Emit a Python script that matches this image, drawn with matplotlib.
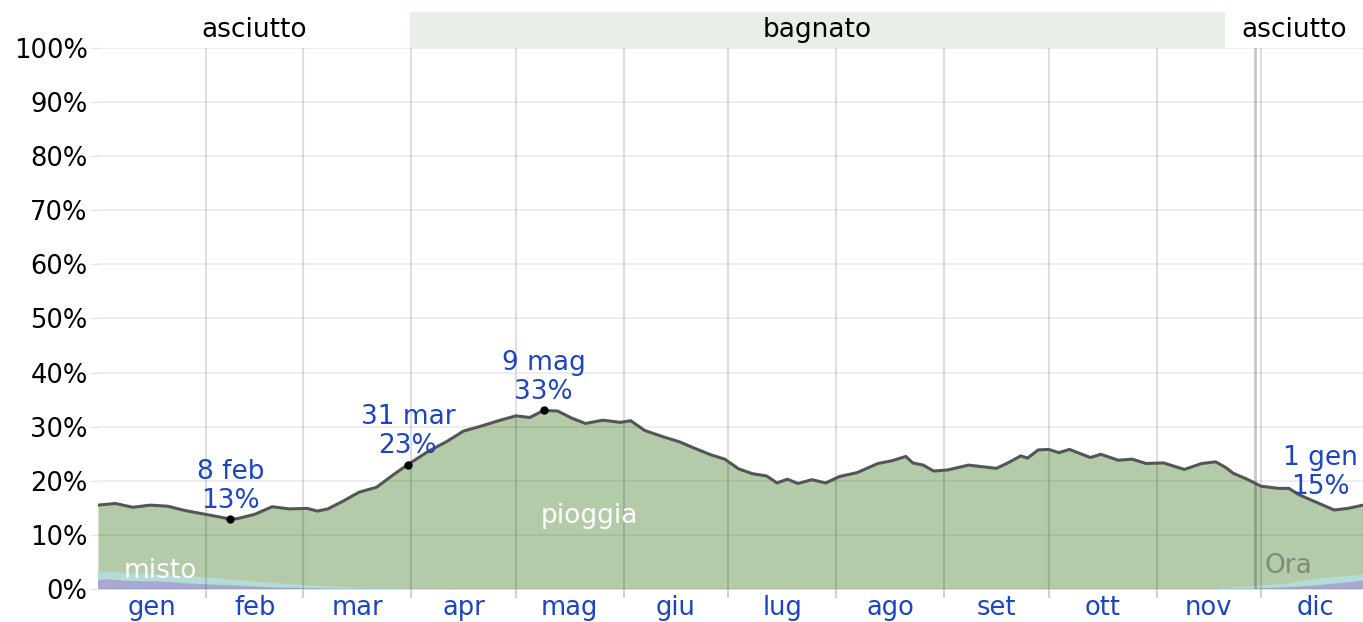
import matplotlib.pyplot as plt
from matplotlib.ticker import FixedLocator, NullFormatter

# giorno dell'anno (0 = 1 gen) e probabilità totale di precipitazione (%)
days = [0, 5, 10, 15, 20, 25, 30, 35, 38, 40, 45, 50, 55, 60, 63, 66, 70, 75,
        80, 85, 89, 95, 100, 105, 110, 115, 120, 124, 128, 132, 136, 140, 145,
        150, 153, 157, 162, 167, 171, 176, 180, 184, 188, 192, 195, 198, 201,
        205, 209, 213, 218, 224, 228, 232, 234, 237, 240, 244, 250, 254, 258,
        261, 265, 267, 270, 273, 276, 279, 285, 288, 293, 297, 301, 306, 312,
        317, 321, 324, 326, 330, 334, 339, 342, 345, 350, 355, 359, 364]
total = [15.5, 15.8, 15.1, 15.5, 15.3, 14.5, 13.9, 13.3, 12.9, 13.0, 13.8, 15.2,
         14.8, 14.9, 14.4, 14.8, 16.1, 17.9, 18.8, 21.2, 23.0, 25.5, 27.2, 29.2,
         30.1, 31.1, 32.0, 31.7, 33.0, 32.9, 31.6, 30.6, 31.2, 30.8, 31.1, 29.3,
         28.2, 27.2, 26.1, 24.8, 24.0, 22.2, 21.3, 20.9, 19.6, 20.3, 19.5, 20.2,
         19.6, 20.8, 21.5, 23.2, 23.7, 24.5, 23.3, 22.9, 21.8, 22.0, 22.9, 22.6,
         22.3, 23.2, 24.6, 24.2, 25.7, 25.8, 25.2, 25.8, 24.3, 24.9, 23.8, 24.0,
         23.2, 23.3, 22.1, 23.2, 23.5, 22.4, 21.4, 20.3, 19.0, 18.6, 18.6, 17.4,
         16.0, 14.6, 14.9, 15.6]

# neve e misto (strati in basso)
mix_days = [0, 3, 9, 18, 30, 39, 49, 59, 71, 85, 95, 318, 331, 340, 350, 364]
snow = [1.7, 1.8, 1.5, 1.4, 0.9, 0.7, 0.35, 0.15, 0.05, 0, 0, 0, 0.05, 0.3, 0.7, 1.6]
mixed = [1.4, 1.4, 1.4, 1.2, 1.3, 1.0, 0.85, 0.55, 0.3, 0.1, 0, 0, 0.45, 0.6, 1.2, 1.1]

months = ['gen', 'feb', 'mar', 'apr', 'mag', 'giu',
          'lug', 'ago', 'set', 'ott', 'nov', 'dic']
month_start = [0, 31, 59, 90, 120, 151, 181, 212, 243, 273, 304, 334, 365]

wet_start, wet_end = 89.6, 323.7
now_day = 332.3

notes = [(38, 12.9, '8 feb\n13%', True), (89, 23.0, '31 mar\n23%', True),
         (128, 33.0, '9 mag\n33%', True), (351, 15.5, '1 gen\n15%', False)]

plt.rcParams['font.family'] = ['DejaVu Sans']
blue = '#1c44c4'
green = '#b3cba8'
x_max = 363.3

fig = plt.figure(figsize=(13.63, 6.22), dpi=100)
ax = fig.add_axes([0.0719, 0.0531, 0.9281, 0.8697])
top = fig.add_axes([0.0719, 0.9228, 0.9281, 0.0579], sharex=ax)

ax.fill_between(days, 0, total, color=green, lw=0, zorder=1)
ax.stackplot(mix_days, snow, mixed, colors=['#a7a9d3', '#b3dcd6'], lw=0, zorder=1.5)
ax.plot(days, total, color='#555555', lw=2.2, zorder=3)
ax.axvline(now_day, color='black', alpha=0.22, lw=2, zorder=2.6)

for d, v, s, dot in notes:
    if dot:
        ax.plot(d, v, 'o', color='black', ms=5, zorder=4)
    ax.annotate(s, xy=(d, v), xytext=(0, 4), textcoords='offset points',
                ha='center', va='bottom', color=blue, fontsize=19, linespacing=1.15)

ax.text(141, 13.5, 'pioggia', color='white', fontsize=19, ha='center', va='center')
ax.text(17.8, 3.3, 'misto', color='white', fontsize=19, ha='center', va='center')
ax.text(342, 4.2, 'Ora', color='#7f8a7c', fontsize=19, ha='center', va='center')

ax.set_xlim(0, x_max)
ax.set_ylim(0, 100)
ax.set_yticks(range(0, 101, 10))
ax.set_yticklabels([f'{v}%' for v in range(0, 101, 10)], fontsize=18.5)
ax.xaxis.set_major_locator(FixedLocator(month_start[1:-1]))
ax.xaxis.set_major_formatter(NullFormatter())
mids = [(a + b) / 2 for a, b in zip(month_start[:-1], month_start[1:])]
ax.xaxis.set_minor_locator(FixedLocator(mids))
ax.set_xticklabels(months, minor=True, fontsize=18.5, color=blue)
ax.tick_params(axis='x', which='major', length=6.5, width=1.5, color='#d0d0d0')
ax.tick_params(axis='x', which='minor', length=0, pad=4)
ax.tick_params(axis='y', length=5.5, width=1, color='#e4e4e4', pad=2)
ax.grid(axis='x', which='major', color='black', alpha=0.13, lw=1.5)
ax.grid(axis='y', color='black', alpha=0.08, lw=1.2)
ax.set_axisbelow(False)
for sp in ax.spines.values():
    sp.set_visible(False)

# barra stagioni in alto
top.axvspan(wet_start, wet_end, color='#e8efe6', lw=0)
top.set_ylim(0, 1)
top.text(wet_start / 2, 0.5, 'asciutto', ha='center', va='center', fontsize=19)
top.text((wet_start + wet_end) / 2, 0.5, 'bagnato', ha='center', va='center', fontsize=19)
top.text((wet_end + x_max) / 2, 0.5, 'asciutto', ha='center', va='center', fontsize=19)
top.axis('off')

fig.savefig('out.png', dpi=100)
